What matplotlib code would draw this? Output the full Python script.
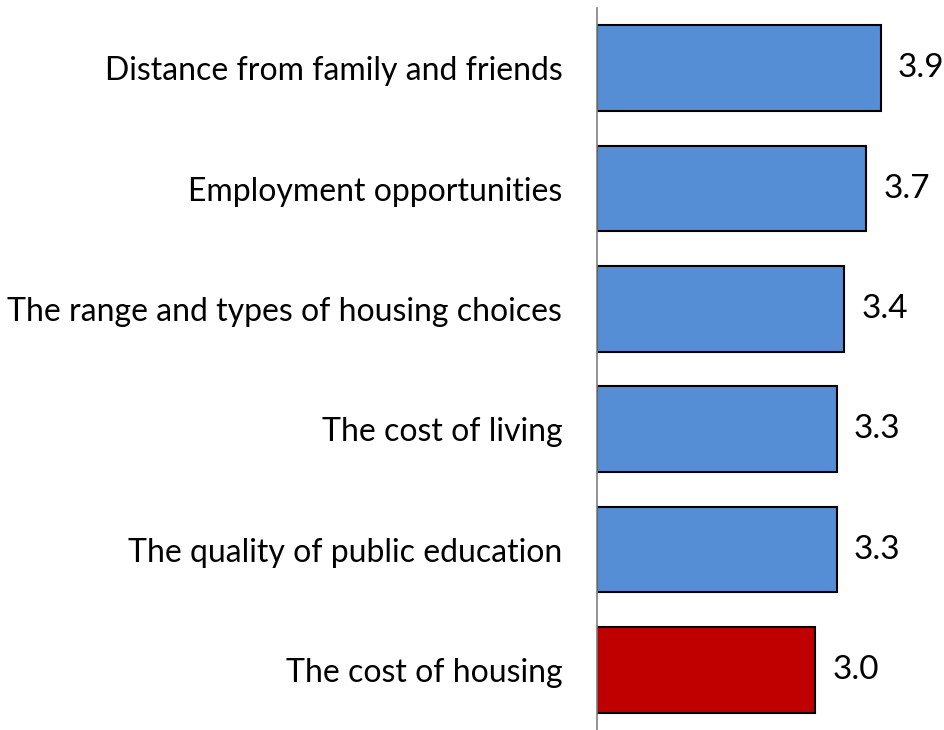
import matplotlib.pyplot as plt

# 各因素的平均评分
factors = ['Distance from family and friends',
           'Employment opportunities',
           'The range and types of housing choices',
           'The cost of living',
           'The quality of public education',
           'The cost of housing']
scores = [3.9, 3.7, 3.4, 3.3, 3.3, 3.0]
colors = ['#558ED5', '#558ED5', '#558ED5', '#558ED5', '#558ED5', '#C00000']

plt.rcParams['font.family'] = ['Lato', 'DejaVu Sans']

fig = plt.figure(figsize=(9.44, 7.30), dpi=100)
ax = fig.add_axes([0.6324, 0.0, 0.3676, 0.989])

pos = list(range(len(factors)))
ax.barh(pos, scores, height=0.71, color=colors, edgecolor='black', linewidth=1.5)
ax.set_ylim(len(factors) - 0.5, -0.5)
ax.set_xlim(0, 4.77)

ax.set_yticks(pos)
ax.set_yticklabels(factors, fontsize=23)
ax.tick_params(axis='y', length=0, pad=25)
ax.set_xticks([])

for i, v in enumerate(scores):
    ax.annotate('%.1f' % v, (v, i), xytext=(12.2, 0), textcoords='offset points',
                va='center', ha='left', fontsize=24)

for s in ['top', 'right', 'bottom']:
    ax.spines[s].set_visible(False)
ax.spines['left'].set_color('#808080')
ax.spines['left'].set_linewidth(1.2)

plt.savefig('out.png', dpi=100)
